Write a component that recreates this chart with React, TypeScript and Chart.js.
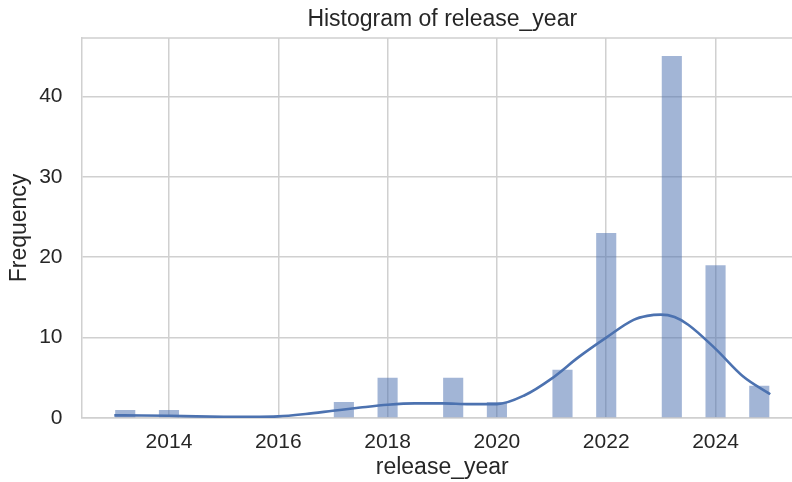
import React, { useEffect, useRef } from "react";
import { Chart, registerables } from "chart.js";

Chart.register(...registerables);

// Histogram bins (30 equal-width bins over the observed years)
const binEdges = [
  2013.0, 2013.4, 2013.8, 2014.2, 2014.6, 2015.0, 2015.4, 2015.8, 2016.2, 2016.6,
  2017.0, 2017.4, 2017.8, 2018.2, 2018.6, 2019.0, 2019.4, 2019.8, 2020.2, 2020.6,
  2021.0, 2021.4, 2021.8, 2022.2, 2022.6, 2023.0, 2023.4, 2023.8, 2024.2, 2024.6,
  2025.0,
];
const binCounts = [
  1, 0, 1, 0, 0, 0, 0, 0, 0, 0,
  2, 0, 5, 0, 0, 5, 0, 2, 0, 0,
  6, 0, 23, 0, 0, 45, 0, 19, 0, 4,
];

// Kernel density estimate, scaled to counts
const kdeYears = [
  2013.0, 2013.5, 2014.0, 2014.5, 2015.0, 2015.5, 2016.0, 2016.5, 2017.0, 2017.5,
  2018.0, 2018.5, 2019.0, 2019.5, 2020.0, 2020.5, 2021.0, 2021.5, 2022.0, 2022.5,
  2022.75, 2023.0, 2023.25, 2023.5, 2024.0, 2024.5, 2025.0,
];
const kdeValues = [
  0.33, 0.32, 0.28, 0.2, 0.15, 0.14, 0.2, 0.5, 0.9, 1.3,
  1.65, 1.82, 1.82, 1.72, 1.72, 2.8, 4.9, 7.6, 10.0, 12.2,
  12.7, 12.85, 12.55, 11.6, 8.6, 5.2, 2.95,
];

const xTicks = [2014, 2016, 2018, 2020, 2022, 2024];
const yTicks = [0, 10, 20, 30, 40];

const TITLE = "Histogram of release_year";
const X_LABEL = "release_year";
const Y_LABEL = "Frequency";

const BLUE = "#4c72b0";
const BAR_FILL = "rgba(76, 114, 176, 0.52)";
const GRID = "#d0d0d0";
const TEXT = "#262626";
const FONT = "'Liberation Sans', Arial, Helvetica, sans-serif";

// top and right edges of the axes frame
const framePlugin = {
  id: "frame",
  beforeDatasetsDraw(chart: any) {
    const { ctx, chartArea } = chart;
    const { left, right, top, bottom } = chartArea;
    ctx.save();
    ctx.strokeStyle = GRID;
    ctx.lineWidth = 1.5;
    ctx.beginPath();
    ctx.moveTo(left, top);
    ctx.lineTo(right, top);
    ctx.lineTo(right, bottom);
    ctx.stroke();
    ctx.restore();
  },
};

export default function App() {
  const canvasRef = useRef<HTMLCanvasElement | null>(null);

  useEffect(() => {
    const canvas = canvasRef.current;
    if (!canvas) return;

    const bars = binCounts.map((c, i) => ({
      x: (binEdges[i] + binEdges[i + 1]) / 2,
      y: c,
    }));
    const kde = kdeYears.map((x, i) => ({ x, y: kdeValues[i] }));

    const chart = new Chart(canvas, {
      type: "bar",
      data: {
        datasets: [
          {
            type: "line",
            data: kde,
            borderColor: BLUE,
            borderWidth: 2.6,
            pointRadius: 0,
            cubicInterpolationMode: "monotone",
            fill: false,
            order: 0,
          } as any,
          {
            type: "bar",
            data: bars,
            backgroundColor: BAR_FILL,
            borderWidth: 0,
            barPercentage: 0.92,
            categoryPercentage: 1,
            order: 1,
          } as any,
        ],
      },
      options: {
        responsive: false,
        maintainAspectRatio: false,
        animation: false,
        layout: { padding: { left: 0, right: 17, top: 0, bottom: 0 } },
        plugins: {
          legend: { display: false },
          tooltip: { enabled: false },
          title: {
            display: true,
            text: TITLE,
            fullSize: false,
            color: TEXT,
            font: { family: FONT, size: 23, weight: "normal" },
            padding: { top: 5.5, bottom: 4.9 },
          },
        },
        scales: {
          x: {
            type: "linear",
            min: 2012.4,
            max: 2025.6,
            offset: false,
            afterBuildTicks(scale: any) {
              scale.ticks = xTicks.map((v) => ({ value: v }));
            },
            afterFit(scale: any) {
              scale.height = 64;
            },
            grid: {
              offset: false,
              color: GRID,
              lineWidth: 1.5,
              drawTicks: false,
            },
            border: { display: true, color: GRID, width: 1.5 },
            ticks: {
              color: TEXT,
              padding: 12,
              font: { family: FONT, size: 21 },
              maxRotation: 0,
              callback: (v: any) => String(v),
            },
            title: {
              display: true,
              text: X_LABEL,
              color: TEXT,
              font: { family: FONT, size: 23 },
              padding: { top: 0, bottom: 0.7 },
            },
          },
          y: {
            type: "linear",
            min: 0,
            max: 47.25,
            afterBuildTicks(scale: any) {
              scale.ticks = yTicks.map((v) => ({ value: v }));
            },
            afterFit(scale: any) {
              scale.width = 81.5;
            },
            grid: {
              color: GRID,
              lineWidth: 1.5,
              drawTicks: false,
            },
            border: { display: true, color: GRID, width: 1.5 },
            ticks: {
              color: TEXT,
              padding: 19,
              font: { family: FONT, size: 21 },
              callback: (v: any) => String(v),
            },
            title: {
              display: true,
              text: Y_LABEL,
              color: TEXT,
              font: { family: FONT, size: 23 },
              padding: { top: 5.8, bottom: 0 },
            },
          },
        },
      },
      plugins: [framePlugin],
    } as any);

    return () => chart.destroy();
  }, []);

  return (
    <div
      style={{
        position: "fixed",
        left: 0,
        top: 0,
        width: 792,
        height: 482,
        overflow: "hidden",
        background: "#ffffff",
      }}
    >
      <canvas
        ref={canvasRef}
        width={820}
        height={482}
        style={{ display: "block", width: 820, height: 482 }}
      />
    </div>
  );
}
